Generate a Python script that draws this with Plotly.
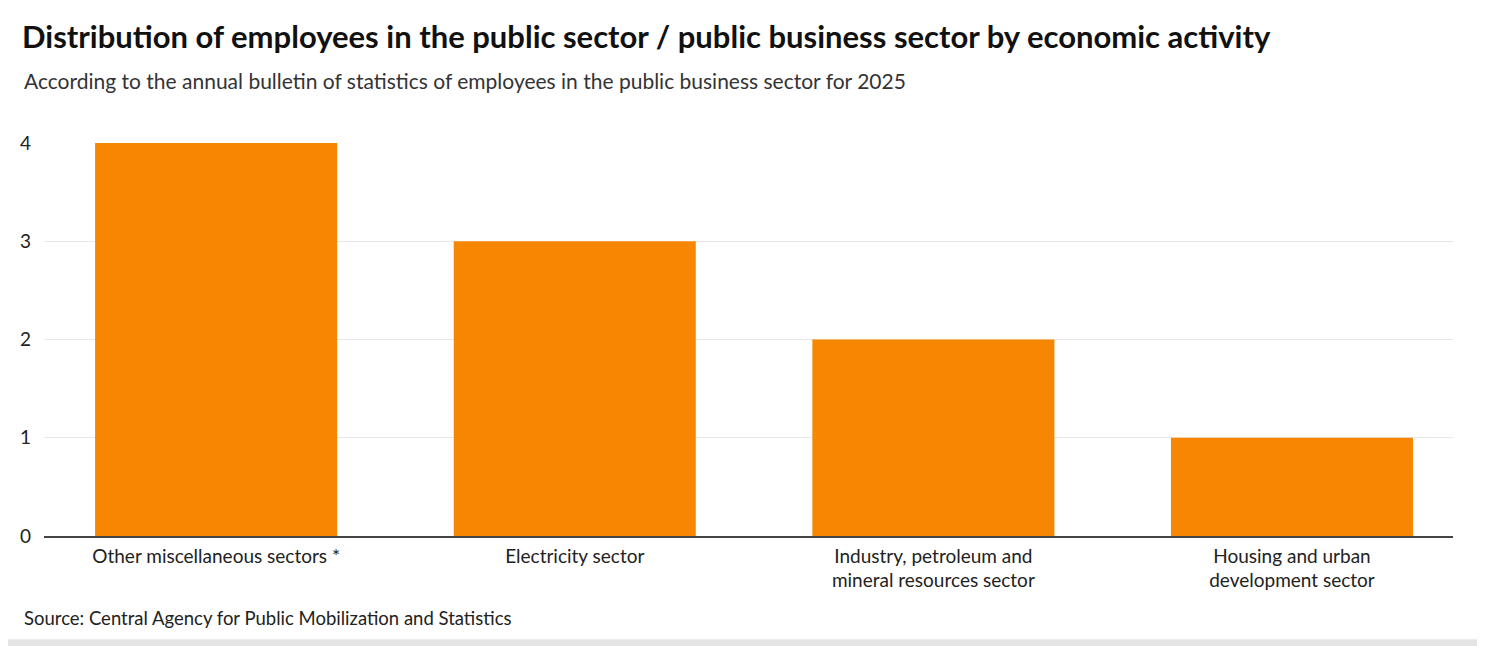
import plotly.graph_objects as go

sectors = [
    "Other miscellaneous sectors *",
    "Electricity sector",
    "Industry, petroleum and<br>mineral resources sector",
    "Housing and urban<br>development sector",
]
values = [4, 3, 2, 1]
y_ticks = [0, 1, 2, 3, 4]

FONT = "Lato, 'Open Sans', sans-serif"
ORANGE = "#F78702"


def main():
    fig = go.Figure(
        go.Bar(
            x=sectors,
            y=values,
            marker=dict(color=ORANGE, line=dict(width=0)),
            hovertemplate="%{x}: %{y}<extra></extra>",
        )
    )

    # page body adds 8px, so the figure is sized a bit under the window
    fig.update_layout(
        width=1469,
        height=638,
        paper_bgcolor="white",
        plot_bgcolor="white",
        font=dict(family=FONT, color="#222222"),
        margin=dict(l=30, r=24, t=135, b=110),
        bargap=0.325,
        showlegend=False,
        title=dict(
            text="<b>Distribution of employees in the public sector / public business sector by economic activity</b>",
            x=0.0095,
            xanchor="left",
            y=0.955,
            yanchor="middle",
            font=dict(size=31, color="#111111", family=FONT),
        ),
        annotations=[
            dict(
                text="According to the annual bulletin of statistics of employees in the public business sector for 2025",
                xref="paper", yref="paper",
                x=-0.0155, y=1.158,
                xanchor="left", yanchor="middle",
                showarrow=False,
                font=dict(size=21, color="#333333"),
            ),
            dict(
                text="Source: Central Agency for Public Mobilization and Statistics",
                xref="paper", yref="paper",
                x=-0.0155, y=-0.209,
                xanchor="left", yanchor="middle",
                showarrow=False,
                font=dict(size=18.5, color="#222222"),
            ),
        ],
        shapes=[
            # thin grey strip along the bottom edge of the page
            dict(
                type="rect", xref="paper", yref="paper",
                x0=-0.03, x1=1.03, y0=-0.263, y1=-0.29,
                fillcolor="#e4e4e4", line=dict(width=0), layer="below",
            )
        ],
    )

    fig.update_xaxes(
        range=[-0.48, 3.449],
        showgrid=False,
        showline=True,
        linecolor="#444444",
        linewidth=1.5,
        ticks="",
        ticklabelstandoff=2,
        tickfont=dict(size=19, color="#222222"),
        fixedrange=True,
    )
    fig.update_yaxes(
        range=[0, 4],
        tickvals=y_ticks,
        showgrid=True,
        gridcolor="#e8e8e8",
        gridwidth=1,
        zeroline=False,
        showline=False,
        ticks="",
        ticklabelstandoff=12,
        tickfont=dict(size=19, color="#222222"),
        fixedrange=True,
    )

    fig.write_html("out.html")


if __name__ == "__main__":
    main()
